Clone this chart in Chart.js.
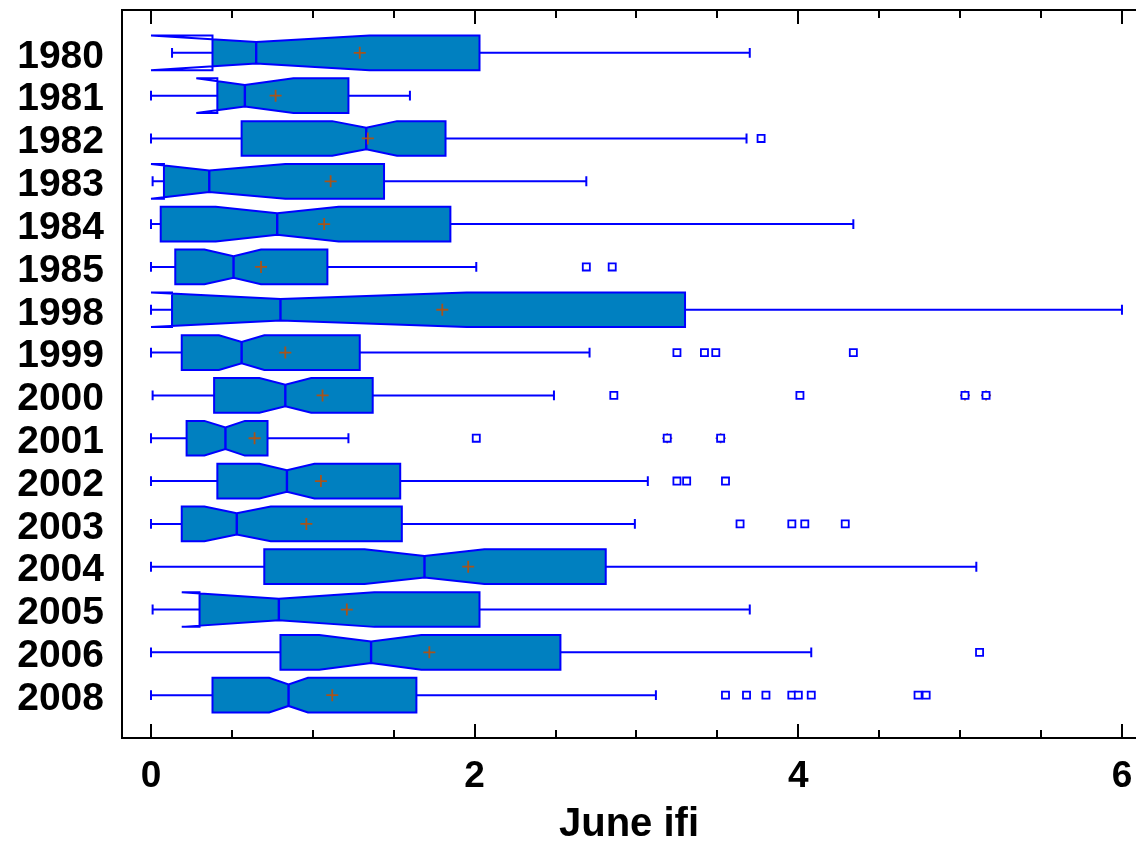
<!DOCTYPE html>
<html><head><meta charset="utf-8">
<script src="https://cdn.jsdelivr.net/npm/chart.js@4.4.1/dist/chart.umd.min.js"></script>
<style>html,body{margin:0;padding:0;background:#fff;overflow:hidden}</style>
</head><body>
<canvas id="c" width="1136" height="842"></canvas>
<script>
// ---- data ----
const years       = ['1980','1981','1982','1983','1984','1985','1998','1999','2000','2001','2002','2003','2004','2005','2006','2008'];
const whiskerLow  = [0.13, 0.00, 0.00, 0.01, 0.00, 0.00, 0.00, 0.00, 0.01, 0.00, 0.00, 0.00, 0.00, 0.01, 0.00, 0.00];
const q1          = [0.38, 0.41, 0.56, 0.08, 0.06, 0.15, 0.13, 0.19, 0.39, 0.22, 0.41, 0.19, 0.70, 0.30, 0.80, 0.38];
const notchLow    = [0.00, 0.28, 1.12, 0.00, 0.40, 0.33, 0.00, 0.42, 0.67, 0.33, 0.67, 0.33, 1.32, 0.19, 1.04, 0.73];
const median      = [0.65, 0.58, 1.33, 0.36, 0.78, 0.51, 0.80, 0.56, 0.83, 0.46, 0.84, 0.53, 1.69, 0.79, 1.36, 0.85];
const notchHigh   = [1.35, 0.88, 1.52, 0.83, 1.16, 0.68, 1.95, 0.70, 0.99, 0.58, 1.01, 0.74, 2.06, 1.38, 1.67, 0.97];
const q3          = [2.03, 1.22, 1.82, 1.44, 1.85, 1.09, 3.30, 1.29, 1.37, 0.72, 1.54, 1.55, 2.81, 2.03, 2.53, 1.64];
const whiskerHigh = [3.70, 1.60, 3.68, 2.69, 4.34, 2.01, 6.00, 2.71, 2.49, 1.22, 3.07, 2.99, 5.10, 3.70, 4.08, 3.12];
const means       = [1.29, 0.77, 1.34, 1.11, 1.07, 0.68, 1.80, 0.83, 1.06, 0.64, 1.05, 0.96, 1.96, 1.21, 1.72, 1.12];
const outliers    = [[], [], [3.77], [], [], [2.69, 2.85], [], [3.25, 3.42, 3.49, 4.34], [2.86, 4.01], [2.01],
                     [3.25, 3.31, 3.55], [3.64, 3.96, 4.04, 4.29], [], [], [5.12],
                     [3.55, 3.68, 3.80, 3.96, 4.00, 4.08, 4.74, 4.79]];
const farOutliers = [[], [], [], [], [], [], [], [], [5.03, 5.16], [3.19, 3.52], [], [], [], [], [], []];
const xTicks      = [0, 0.5, 1, 1.5, 2, 2.5, 3, 3.5, 4, 4.5, 5, 5.5, 6];
const xMajor      = [0, 2, 4, 6];
const xTitle      = 'June ifi';

// ---- styles ----
const BLUE = '#0000ff', FILL = '#0080c0', BROWN = '#a5541c';
const FONT = "'Liberation Sans', Arial, Helvetica, sans-serif";
const X_MIN = -0.1792, X_MAX = 6.0867;

const pts = (arr) => arr.flatMap((vals, i) => vals.map(v => ({x: v, y: i + 1})));
const meanPts = means.map((v, i) => ({x: v, y: i + 1}));

const boxPlugin = {
  id: 'notchedBoxes',
  beforeDatasetsDraw(chart) {
    const {ctx, scales: {x, y}, chartArea: ca} = chart;
    const unit = Math.abs(y.getPixelForValue(1) - y.getPixelForValue(0));
    const H = unit * 0.405, Hin = H * 0.62, cap = unit * 0.115;
    const px = v => x.getPixelForValue(v);
    ctx.save();
    ctx.beginPath(); ctx.rect(ca.left, ca.top, ca.right - ca.left, ca.bottom - ca.top); ctx.clip();
    ctx.strokeStyle = BLUE;
    years.forEach((yr, i) => {
      const yc = y.getPixelForValue(i + 1);
      const xlo = px(whiskerLow[i]), xq1 = px(q1[i]), xnl = px(notchLow[i]), xmd = px(median[i]),
            xnh = px(notchHigh[i]), xq3 = px(q3[i]), xhi = px(whiskerHigh[i]);
      ctx.lineWidth = 2;
      ctx.beginPath();
      ctx.moveTo(xlo, yc); ctx.lineTo(xq1, yc);
      ctx.moveTo(xlo, yc - cap); ctx.lineTo(xlo, yc + cap);
      ctx.moveTo(xq3, yc); ctx.lineTo(xhi, yc);
      ctx.moveTo(xhi, yc - cap); ctx.lineTo(xhi, yc + cap);
      ctx.stroke();
      const poly = () => {
        ctx.beginPath();
        ctx.moveTo(xq1, yc - H); ctx.lineTo(xnl, yc - H); ctx.lineTo(xmd, yc - Hin);
        ctx.lineTo(xnh, yc - H); ctx.lineTo(xq3, yc - H); ctx.lineTo(xq3, yc + H);
        ctx.lineTo(xnh, yc + H); ctx.lineTo(xmd, yc + Hin); ctx.lineTo(xnl, yc + H);
        ctx.lineTo(xq1, yc + H); ctx.closePath();
      };
      ctx.save();
      ctx.beginPath(); ctx.rect(xq1, yc - H - 2, xq3 - xq1, 2 * H + 4); ctx.clip();
      poly(); ctx.fillStyle = FILL; ctx.fill('evenodd');
      ctx.restore();
      poly(); ctx.lineWidth = 2; ctx.lineJoin = 'miter'; ctx.stroke();
      ctx.lineWidth = 2.4;
      ctx.beginPath(); ctx.moveTo(xmd, yc - Hin); ctx.lineTo(xmd, yc + Hin); ctx.stroke();
    });
    ctx.restore();
  }
};

// frame (left, top, bottom) and inward ticks on top and bottom, from the x scale
const framePlugin = {
  id: 'frameTicks',
  afterDraw(chart) {
    const {ctx, scales: {x}, chartArea: ca} = chart;
    ctx.save();
    ctx.strokeStyle = '#000'; ctx.lineWidth = 2; ctx.lineCap = 'butt';
    ctx.beginPath();
    ctx.moveTo(ca.right + 2, ca.top); ctx.lineTo(ca.left, ca.top);
    ctx.lineTo(ca.left, ca.bottom); ctx.lineTo(ca.right + 2, ca.bottom);
    ctx.stroke();
    x.ticks.forEach(t => {
      const p = Math.round(x.getPixelForValue(t.value));
      const len = xMajor.includes(t.value) ? 14 : 8;
      ctx.beginPath();
      ctx.moveTo(p, ca.top); ctx.lineTo(p, ca.top + len);
      ctx.moveTo(p, ca.bottom); ctx.lineTo(p, ca.bottom - len);
      ctx.stroke();
    });
    ctx.restore();
  }
};

const noPad = s => { s.paddingLeft = 0; s.paddingRight = 0; s.paddingTop = 0; s.paddingBottom = 0; };

new Chart(document.getElementById('c'), {
  type: 'scatter',
  data: {
    datasets: [
      {data: pts(outliers), pointStyle: 'rect', radius: 5, backgroundColor: '#fff', borderColor: BLUE, borderWidth: 1.8},
      {data: pts(farOutliers), pointStyle: 'rect', radius: 5, backgroundColor: '#fff', borderColor: BLUE, borderWidth: 1.8},
      {data: pts(farOutliers), pointStyle: 'cross', radius: 5, borderColor: BROWN, borderWidth: 1.6},
      {data: meanPts, pointStyle: 'cross', radius: 6, borderColor: BROWN, borderWidth: 1.8}
    ]
  },
  options: {
    responsive: false, animation: false, devicePixelRatio: 1,
    layout: {padding: {top: 10, left: 0, right: 0, bottom: 0}, autoPadding: false},
    events: [],
    plugins: {legend: {display: false}, tooltip: {enabled: false}},
    scales: {
      x: {
        type: 'linear', position: 'bottom', min: X_MIN, max: X_MAX,
        afterFit(s) { s.height = 104; noPad(s); },
        afterBuildTicks(s) { s.ticks = xTicks.map(v => ({value: v})); },
        ticks: {autoSkip: false, maxRotation: 0, padding: 17, color: '#000',
                font: {family: FONT, size: 37, weight: 'bold'},
                callback: v => xMajor.includes(v) ? String(v) : ''},
        grid: {display: false, drawOnChartArea: false, drawTicks: false},
        border: {display: false},
        title: {display: true, text: xTitle, color: '#000', padding: 0,
                font: {family: FONT, size: 40, weight: 'bold', lineHeight: 0.875}}
      },
      y: {
        type: 'linear', min: 0, max: 17, reverse: true,
        afterFit(s) { s.width = 122; noPad(s); },
        afterBuildTicks(s) { s.ticks = years.map((_, i) => ({value: i + 1})); },
        ticks: {autoSkip: false, padding: 18, labelOffset: 4, color: '#000',
                font: {family: FONT, size: 39, weight: 'bold'},
                callback: v => years[v - 1]},
        grid: {display: false, drawOnChartArea: false, drawTicks: false},
        border: {display: false}
      }
    }
  },
  plugins: [boxPlugin, framePlugin]
});
</script>
</body></html>
